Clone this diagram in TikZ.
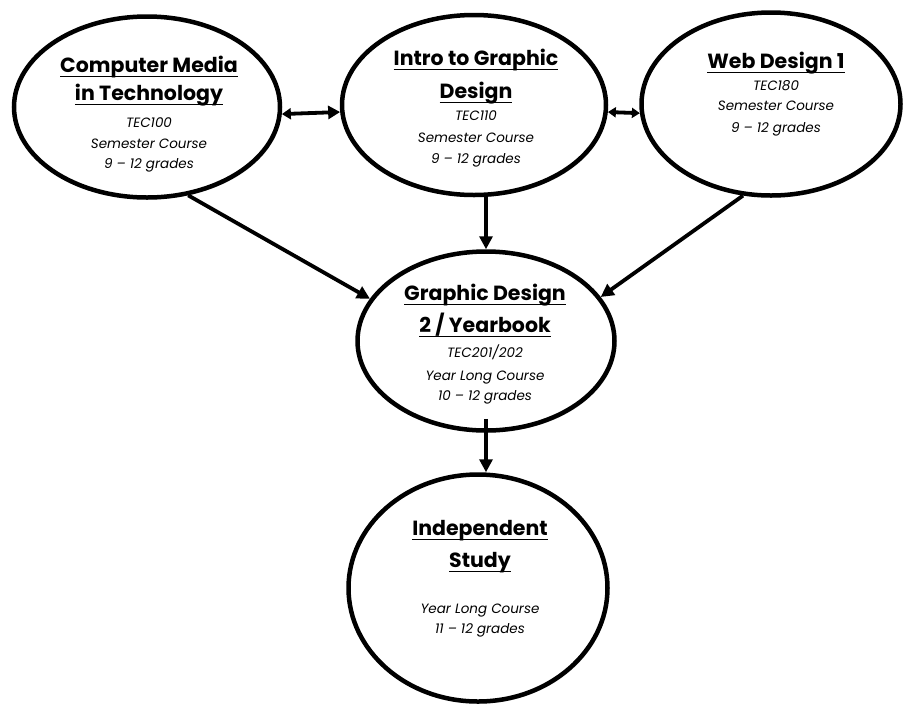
\documentclass[tikz,border=0pt]{standalone}
\usepackage{fontspec}
\setmainfont{Poppins}
\usetikzlibrary{shapes.geometric,arrows.meta,shadows}
\newcommand\titul[1]{\setbox0\hbox{#1}\rlap{\vrule height -3.6pt depth 5.4pt width \wd0}\box0}
\begin{document}
\begin{tikzpicture}[x=1pt,y=-1pt,
  course/.style={ellipse, draw, line width=4.5pt, fill=white, inner sep=0pt,
    drop shadow={shadow xshift=1.5pt, shadow yshift=-2pt, fill=black!30}},
  ttl/.style={anchor=base, inner sep=0pt, font=\bfseries\fontsize{20.5}{22}\selectfont},
  sml/.style={anchor=base, inner sep=0pt, font=\itshape\fontsize{13.5}{15}\selectfont},
  link/.style={line width=3.8pt, -{Triangle[length=13pt,width=13pt]}},
  dlink/.style={line width=3.8pt, {Triangle[length=9pt,width=11pt]}-{Triangle[length=12pt,width=13pt]}},
  dlinks/.style={line width=3.8pt, {Triangle[length=8pt,width=10pt]}-{Triangle[length=8pt,width=10pt]}}
]
\useasboundingbox (0,0) rectangle (905,705);
\fill[white] (0,0) rectangle (905,705);

\node[course, minimum width=266pt, minimum height=181pt] (e1) at (147,107) {};
\node[course, minimum width=264pt, minimum height=180pt] (e2) at (474,105) {};
\node[course, minimum width=259pt, minimum height=183pt] (e3) at (771,104) {};
\node[course, minimum width=257pt, minimum height=179pt] (e4) at (486,341) {};
\node[course, minimum width=259pt, minimum height=227pt] (e5) at (478,588) {};

% texts e1
\node[ttl] (t1a) at (149,72) {\titul{Computer Media}};
\node[ttl] (t1b) at (149,100) {\titul{in Technology}};
\node[sml] (t1c) at (149,127) {TEC100};
\node[sml] (t1d) at (149,148) {Semester Course};
\node[sml] (t1e) at (149,168) {9 – 12 grades};
% texts e2
\node[ttl] (t2a) at (476,65) {\titul{Intro to Graphic}};
\node[ttl] (t2b) at (476,98) {\titul{Design}};
\node[sml] (t2c) at (476,120) {TEC110};
\node[sml] (t2d) at (476,142) {Semester Course};
\node[sml] (t2e) at (476,163) {9 – 12 grades};
% texts e3
\node[ttl] (t3a) at (776,68) {\titul{Web Design 1}};
\node[sml] (t3c) at (776,90) {TEC180};
\node[sml] (t3d) at (776,110) {Semester Course};
\node[sml] (t3e) at (776,132) {9 – 12 grades};
% texts e4
\node[ttl] (t4a) at (485,300) {\titul{Graphic Design}};
\node[ttl] (t4b) at (485,332) {\titul{2 / Yearbook}};
\node[sml] (t4c) at (485,357) {TEC201/202};
\node[sml] (t4d) at (485,380) {Year Long Course};
\node[sml] (t4e) at (485,400) {10 – 12 grades};
% texts e5
\node[ttl] (t5a) at (480,535) {\titul{Independent}};
\node[ttl] (t5b) at (480,567) {\titul{Study}};
\node[sml] (t5d) at (480,613) {Year Long Course};
\node[sml] (t5e) at (480,633) {11 – 12 grades};

% connectors
\draw[dlink] (e1.-3) -- (e2.-177);
\draw[dlinks] (e2.-3) -- (e3.-176);
\draw[link] (e1.-65) -- (e4.160);
\draw[link] (e3.-107) -- (e4.21);
\draw[link] (e4.north |- e2.south) -- (e4.north);
\draw[link] ([yshift=14pt]e4.south) -- (e4.south |- e5.north);
\end{tikzpicture}
\end{document}
